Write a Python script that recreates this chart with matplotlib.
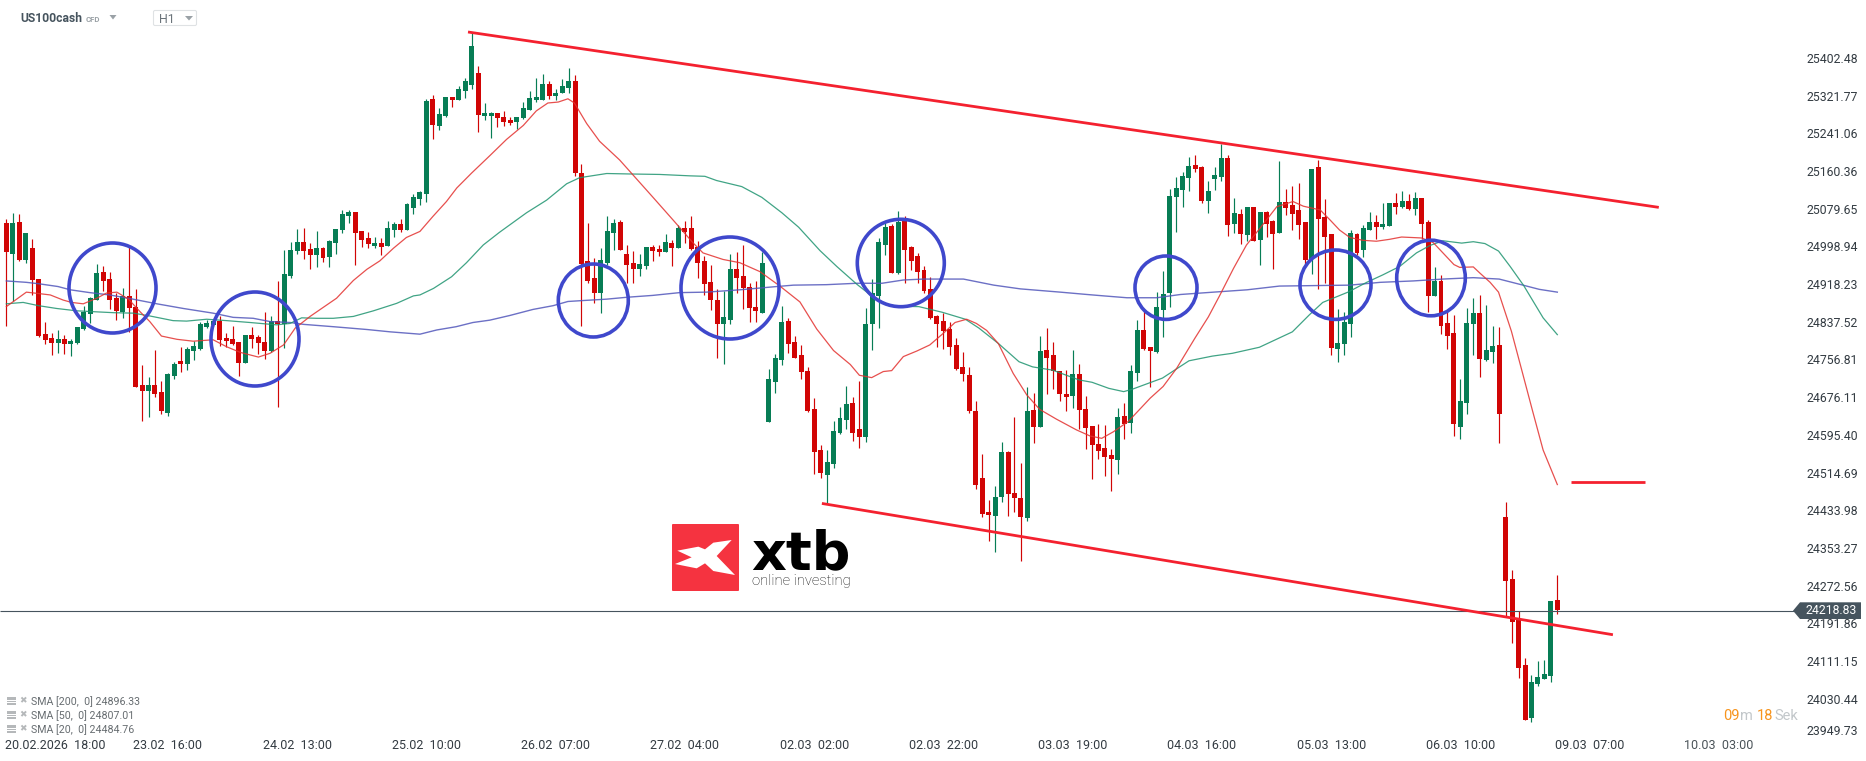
import matplotlib
matplotlib.use("Agg")
import numpy as np
import matplotlib.pyplot as plt
from matplotlib.patches import Ellipse, Polygon, Rectangle, FancyBboxPatch
from matplotlib.transforms import ScaledTranslation

# H1 candles, oldest first. R = close below open, G = close above open
directions = (
    "RGRGRRRRGR" "GGGGGRRRGR" "RRGRRGGRGG" "GGGRRRRGRR" "RGRGGGRRGR" "GGGGRRRGRG"
    "GRGGGGRGGR" "GGGRGGRRRG" "GGGGRGGGRR" "RRGGGRRRGG" "RRGRGRRRRR" "RGGRRRRGGG"
    "GRRRRRRGGG" "GRRGGGGRGR" "RRRRRRRRRR" "RRRGGRRRGR" "GRRRRGRRRR" "RRGRGGRRGG"
    "GGGGRRGGGR" "GRGRGRRGRR" "RRGRRRGGGR" "GGRGGRGRGR" "RGRRRGGGRG" "GRRRRRGGGGR"
)
highs = [
    25058, 25071, 25068, 25028, 25015, 24929, 24837, 24814, 24820, 24809,
    24801, 24826, 24871, 24890, 24961, 24957, 24944, 24899, 24910, 24997,
    24908, 24745, 24719, 24777, 24711, 24727, 24752, 24784, 24784, 24797,
    24838, 24842, 24844, 24849, 24814, 24829, 24795, 24809, 24826, 24809,
    24859, 24850, 24925, 24991, 25008, 25036, 25038, 25006, 25032, 24998,
    25013, 25036, 25077, 25077, 25073, 25032, 25030, 25019, 25017, 25053,
    25051, 25058, 25092, 25111, 25118, 25315, 25323, 25295, 25319, 25319,
    25342, 25360, 25457, 25385, 25307, 25286, 25284, 25289, 25275, 25275,
    25309, 25331, 25360, 25367, 25354, 25335, 25357, 25380, 25365, 25175,
    25050, 24974, 24995, 25064, 25057, 25055, 25002, 24990, 24983, 24998,
    25002, 25002, 25025, 25013, 25044, 25053, 25064, 25010, 24979, 24959,
    24907, 24903, 24983, 24987, 25002, 24920, 24925, 24987, 24736, 24768,
    24871, 24845, 24807, 24788, 24740, 24675, 24574, 24563, 24625, 24655,
    24699, 24676, 24711, 24868, 24929, 25017, 25048, 25046, 25075, 25064,
    25000, 24985, 24957, 24933, 24852, 24856, 24837, 24803, 24773, 24741,
    24668, 24555, 24456, 24486, 24580, 24561, 24634, 24535, 24698, 24685,
    24807, 24824, 24794, 24732, 24734, 24777, 24747, 24679, 24614, 24619,
    24617, 24565, 24653, 24664, 24745, 24841, 24863, 24784, 24901, 24946,
    25122, 25148, 25158, 25190, 25195, 25171, 25139, 25169, 25218, 25195,
    25103, 25079, 25083, 25083, 25073, 25075, 25056, 25182, 25122, 25128,
    25135, 25051, 25165, 25184, 25100, 25026, 24865, 24859, 25033, 25028,
    25045, 25073, 25067, 25092, 25092, 25113, 25118, 25112, 25115, 25102,
    25056, 24955, 24938, 24858, 24852, 24715, 24867, 24888, 24895, 24874,
    24829, 24826, 24452, 24306, 24218, 24117, 24081, 24112, 24113, 24239, 24295,
]
body_tops = [
    25049, 25049, 25051, 25028, 24996, 24929, 24811, 24803, 24801, 24801,
    24796, 24826, 24859, 24888, 24942, 24944, 24929, 24889, 24893, 24893,
    24869, 24702, 24702, 24702, 24687, 24726, 24747, 24754, 24779, 24786,
    24833, 24836, 24840, 24839, 24803, 24801, 24794, 24809, 24809, 24805,
    24794, 24839, 24839, 24940, 24991, 25008, 25008, 24993, 24996, 24996,
    25011, 25036, 25068, 25073, 25073, 25032, 25017, 25006, 25006, 25038,
    25047, 25047, 25090, 25105, 25115, 25310, 25315, 25282, 25319, 25319,
    25336, 25353, 25429, 25371, 25284, 25284, 25284, 25275, 25270, 25275,
    25296, 25316, 25319, 25346, 25346, 25328, 25342, 25353, 25353, 25157,
    24968, 24932, 24970, 25032, 25050, 25051, 24983, 24963, 24961, 24998,
    24998, 24994, 25008, 25006, 25039, 25039, 25039, 24997, 24968, 24922,
    24884, 24847, 24951, 24951, 24935, 24911, 24869, 24964, 24715, 24760,
    24837, 24839, 24794, 24766, 24732, 24651, 24563, 24537, 24604, 24632,
    24662, 24664, 24608, 24833, 24899, 25008, 25041, 25043, 25052, 25053,
    24998, 24978, 24948, 24908, 24850, 24839, 24822, 24788, 24741, 24724,
    24647, 24503, 24430, 24463, 24559, 24559, 24471, 24460, 24647, 24649,
    24775, 24777, 24766, 24732, 24683, 24726, 24726, 24651, 24614, 24576,
    24567, 24552, 24634, 24636, 24732, 24820, 24820, 24784, 24869, 24897,
    25107, 25124, 25150, 25171, 25173, 25169, 25118, 25152, 25188, 25188,
    25071, 25068, 25083, 25083, 25073, 25073, 25053, 25094, 25094, 25088,
    25077, 25051, 25165, 25169, 25062, 25026, 24792, 24837, 25028, 25025,
    25038, 25051, 25051, 25047, 25092, 25091, 25097, 25097, 25102, 25102,
    25051, 24925, 24925, 24835, 24814, 24668, 24835, 24856, 24856, 24777,
    24785, 24788, 24420, 24287, 24199, 24103, 24067, 24077, 24083, 24239, 24242,
]
body_bottoms = [
    24986, 24983, 24970, 24970, 24928, 24808, 24799, 24793, 24793, 24789,
    24789, 24793, 24822, 24855, 24885, 24925, 24885, 24861, 24859, 24868,
    24698, 24690, 24690, 24683, 24647, 24643, 24722, 24747, 24747, 24775,
    24779, 24827, 24831, 24799, 24796, 24790, 24749, 24749, 24801, 24792,
    24775, 24775, 24833, 24833, 24936, 24989, 24989, 24981, 24981, 24974,
    24976, 25006, 25034, 25064, 25028, 25013, 25004, 25000, 24998, 25000,
    25034, 25034, 25034, 25081, 25100, 25111, 25259, 25257, 25278, 25312,
    25312, 25332, 25345, 25281, 25279, 25279, 25273, 25265, 25263, 25266,
    25273, 25291, 25312, 25312, 25321, 25321, 25328, 25338, 25156, 24961,
    24924, 24899, 24899, 24963, 25027, 24991, 24959, 24951, 24951, 24956,
    24989, 24986, 24987, 24996, 24996, 25029, 24994, 24964, 24919, 24884,
    24833, 24833, 24841, 24932, 24910, 24866, 24860, 24857, 24623, 24708,
    24756, 24790, 24761, 24730, 24646, 24559, 24513, 24510, 24533, 24600,
    24627, 24600, 24591, 24591, 24833, 24893, 25002, 24943, 24942, 24991,
    24968, 24944, 24903, 24846, 24833, 24818, 24784, 24737, 24726, 24647,
    24488, 24426, 24424, 24422, 24463, 24469, 24460, 24420, 24418, 24612,
    24612, 24760, 24732, 24683, 24677, 24679, 24649, 24610, 24574, 24561,
    24548, 24544, 24542, 24619, 24621, 24728, 24779, 24775, 24773, 24863,
    24899, 25105, 25120, 25145, 25165, 25096, 25096, 25143, 25148, 25045,
    25047, 25025, 25023, 25011, 25013, 25047, 25026, 25028, 25081, 25068,
    25045, 24970, 24972, 25058, 25019, 24781, 24779, 24790, 24833, 24985,
    24992, 25035, 25041, 25041, 25042, 25083, 25083, 25079, 25079, 25047,
    24892, 24892, 24829, 24807, 24619, 24612, 24664, 24833, 24758, 24756,
    24773, 24640, 24283, 24194, 24096, 23985, 23989, 24062, 24072, 24079, 24221,
]
lows = [
    24829, 24881, 24968, 24964, 24894, 24804, 24790, 24767, 24771, 24769,
    24764, 24789, 24820, 24834, 24884, 24904, 24864, 24841, 24846, 24816,
    24697, 24626, 24634, 24677, 24640, 24636, 24716, 24730, 24734, 24756,
    24777, 24825, 24829, 24786, 24784, 24788, 24722, 24749, 24781, 24769,
    24758, 24773, 24655, 24782, 24931, 24983, 24972, 24951, 24955, 24966,
    24955, 24983, 25028, 25049, 24959, 24998, 24995, 24995, 24981, 25000,
    25019, 25030, 25033, 25068, 25088, 25094, 25229, 25248, 25276, 25297,
    25312, 25317, 25337, 25243, 25270, 25231, 25254, 25257, 25259, 25250,
    25271, 25291, 25309, 25312, 25315, 25312, 25328, 25327, 25150, 24829,
    24921, 24878, 24857, 24959, 24991, 24991, 24921, 24921, 24935, 24951,
    24968, 24979, 24987, 24957, 24996, 25006, 24991, 24932, 24895, 24862,
    24760, 24747, 24833, 24899, 24864, 24838, 24838, 24857, 24623, 24685,
    24745, 24770, 24761, 24714, 24644, 24512, 24504, 24448, 24525, 24597,
    24609, 24582, 24568, 24580, 24777, 24825, 24981, 24943, 24939, 24921,
    24948, 24921, 24899, 24844, 24784, 24779, 24766, 24734, 24711, 24642,
    24480, 24420, 24368, 24345, 24452, 24422, 24430, 24326, 24411, 24578,
    24612, 24683, 24694, 24668, 24647, 24653, 24608, 24565, 24501, 24544,
    24507, 24475, 24512, 24587, 24599, 24711, 24777, 24698, 24771, 24805,
    24869, 25030, 25083, 25118, 25158, 25092, 25070, 25120, 25139, 25021,
    25028, 25004, 25011, 25011, 24959, 25019, 24951, 25028, 25066, 25034,
    25015, 24959, 24940, 24908, 24921, 24766, 24752, 24766, 24805, 24981,
    24976, 25035, 25014, 25036, 25042, 25069, 25081, 25076, 25066, 25014,
    24859, 24892, 24811, 24779, 24593, 24587, 24640, 24766, 24720, 24753,
    24749, 24578, 24207, 24149, 24075, 23985, 23981, 24058, 24072, 24067, 24212,
]

# moving averages as (candle number, price)
sma20_idx = [
    0, 1.6, 3.1, 5, 6.8, 8.8, 10.1, 11.9, 14, 15.5, 17.1, 18.9, 20.7, 22.2, 24, 26.4, 28.9, 32, 34.1, 36.2,
    39, 40.8, 42.9, 44.7, 47, 51.1, 53.7, 55.8, 57.8, 59.9, 61.9, 64, 66, 68.1, 69.7, 72, 74.8, 77.4, 80, 82,
    83.8, 85.4, 86.9, 87.9, 89.8, 91.8, 94.9, 98, 100, 103.2, 106.3, 107.8, 110.9, 113.5, 116.6, 119.7, 122.8, 125.4, 128, 130.6,
    132, 133.9, 135.7, 137, 138.8, 140.9, 142.9, 145, 146.8, 148.6, 150.1, 151.7, 153.5, 155.8, 157.9, 159.9, 162.5, 165.6, 167.7, 169.5,
    171.3, 173.6, 177, 179, 181.1, 183.9, 186, 187.8, 189.9, 191.9, 194, 196.6, 199.1, 200.7, 203.3, 204.8, 206.3, 207.9, 209.9, 212,
    214, 215.9, 219, 220.8, 222.3, 224, 224.9, 227, 228, 229.6, 230.9, 232.9, 234.4, 236.2, 237.8, 240,
]
sma20_val = [
    24870, 24886, 24901, 24898, 24895, 24884, 24879, 24876, 24888, 24899, 24901, 24886, 24859, 24838, 24807, 24800, 24796, 24799, 24784, 24772,
    24762, 24770, 24788, 24824, 24849, 24888, 24926, 24950, 24968, 24995, 25018, 25031, 25063, 25095, 25124, 25156, 25193, 25228, 25258, 25289,
    25306, 25308, 25315, 25306, 25262, 25224, 25184, 25136, 25105, 25055, 25006, 24985, 24971, 24964, 24945, 24914, 24880, 24822, 24776, 24746,
    24723, 24718, 24731, 24733, 24763, 24775, 24788, 24813, 24836, 24843, 24834, 24819, 24791, 24727, 24681, 24650, 24629, 24606, 24593, 24588,
    24602, 24624, 24674, 24699, 24738, 24802, 24848, 24895, 24952, 25002, 25038, 25084, 25095, 25085, 25077, 25056, 25034, 25018, 25012, 25010,
    25014, 25019, 25017, 25007, 24985, 24960, 24954, 24955, 24942, 24922, 24901, 24817, 24739, 24645, 24563, 24489,
]
sma50_idx = [
    0, 2.6, 5, 7.8, 10.9, 13.7, 16.6, 19.7, 22.2, 25.8, 27.9, 31, 34.1, 37.7, 41.8, 43.9, 45.7, 48, 50.6, 53.7,
    56.8, 60.4, 63, 64, 66.1, 68.9, 71.2, 73.8, 76.3, 80.5, 83.6, 86.7, 88.7, 92.9, 96.5, 101.1, 105.8, 108.1, 109.9, 113.8,
    116.9, 120, 122.6, 125.9, 128.5, 131.6, 133.7, 136.7, 141.2, 144.8, 148.4, 150.5, 153.6, 156.7, 158.8, 161.9, 166, 168, 170.6, 172.9,
    174.2, 178.9, 181, 183, 186.6, 189.7, 193.9, 199, 201.6, 203.7, 207.6, 210.5, 213, 215.6, 218.2, 220.3, 222.3, 225.2, 227, 228.8,
    230.9, 232.7, 234.8, 237.8, 240,
]
sma50_val = [
    24876, 24879, 24872, 24866, 24861, 24859, 24857, 24856, 24850, 24840, 24839, 24843, 24840, 24836, 24831, 24834, 24846, 24845, 24845, 24849,
    24861, 24877, 24893, 24895, 24909, 24934, 24964, 25002, 25029, 25071, 25098, 25133, 25146, 25155, 25154, 25153, 25150, 25149, 25140, 25127,
    25104, 25071, 25040, 24990, 24956, 24918, 24895, 24871, 24870, 24858, 24843, 24824, 24790, 24752, 24741, 24734, 24713, 24708, 24695, 24688,
    24693, 24717, 24736, 24754, 24764, 24770, 24783, 24816, 24852, 24879, 24901, 24922, 24938, 24956, 24985, 25001, 25011, 25006, 25009, 25005,
    24989, 24956, 24915, 24846, 24810,
]
sma200_idx = [
    0, 3.1, 5, 8, 9.9, 12.9, 16, 19.6, 23.3, 27.4, 32, 35.1, 38.2, 40.8, 43.9, 46, 50.6, 55.8, 59.4, 64,
    66.6, 69.6, 72.2, 74.8, 77.9, 81.5, 84.6, 86.9, 89.2, 92.9, 96, 100, 104.2, 108.3, 113.5, 119.2, 121.8, 126.9, 131.6, 135.5,
    138.8, 141.9, 148.1, 152.8, 156.9, 163.1, 167.2, 169.8, 173.4, 178, 181.7, 186.8, 192, 197, 202.3, 207.9, 212.6, 217.7, 222.3, 227,
    231, 234.4, 237.2, 240,
]
sma200_val = [
    24925, 24922, 24919, 24913, 24906, 24900, 24895, 24886, 24876, 24866, 24856, 24847, 24845, 24838, 24836, 24832, 24827, 24821, 24816, 24811,
    24820, 24827, 24836, 24841, 24851, 24864, 24872, 24881, 24883, 24886, 24890, 24894, 24900, 24901, 24906, 24913, 24916, 24917, 24920, 24920,
    24927, 24929, 24929, 24916, 24908, 24901, 24896, 24893, 24889, 24889, 24896, 24901, 24906, 24914, 24915, 24916, 24922, 24925, 24929, 24932,
    24929, 24917, 24907, 24901,
]

# channel lines drawn on the chart: (candle numbers, prices)
upper_line = ([71.44, 255.7], [25458, 25082.5])
lower_line = ([126.2, 248.6], [24448.6, 24167.5])
target_line = ([242.1, 253.6], [24493.5, 24493.5])

last_price = 24218.83
y_ticks = [
    25402.48, 25321.77, 25241.06, 25160.36, 25079.65, 24998.94, 24918.23, 24837.52, 24756.81, 24676.11,
    24595.40, 24514.69, 24433.98, 24353.27, 24272.56, 24191.86, 24111.15, 24030.44, 23949.73,
]
x_ticks = [7.6, 25, 45, 65, 85, 105, 125, 145, 165, 185, 205, 225, 245, 265]
x_labels = [
    "20.02.2026  18:00", "23.02  16:00", "24.02  13:00", "25.02  10:00", "26.02  07:00", "27.02  04:00", "02.03  02:00",
    "02.03  22:00", "03.03  19:00", "04.03  16:00", "05.03  13:00", "06.03  10:00", "09.03  07:00", "10.03  03:00",
]
legend_rows = ["SMA [200,  0] 24896.33", "SMA [50,  0] 24807.01", "SMA [20,  0] 24484.76"]

# hand drawn circles, in pixels of the picture: centre x, centre y, radius x, radius y
circles = [
    (112.5, 288, 43.5, 45), (255, 339, 44, 47), (593.3, 300.5, 35, 36.5), (730, 288, 49, 51),
    (900.8, 263, 43.5, 43.7), (1166, 287.7, 31, 31.7), (1335.5, 284.7, 35.5, 34.7), (1431, 278, 34.3, 37.8),
]

GREEN = "#077d55"
RED = "#d10505"
INK = "#46545e"

plt.rcParams["font.family"] = ["Roboto", "DejaVu Sans"]

W, H = 1866, 761
fig = plt.figure(figsize=(W / 100, H / 100), dpi=100, facecolor="white")
# main axes end where the price scale starts
ax = fig.add_axes([0, (H - 736.5) / H, 1800 / W, 736.5 / H])
ax.set_xlim(-0.98, 277.55)
ax.set_ylim(23949.6, 25526.5)
for s in ax.spines.values():
    s.set_visible(False)

ups = np.array([d == "G" for d in directions])
idx = np.arange(len(highs))
colors = np.where(ups, GREEN, RED)
ax.vlines(idx, lows, highs, colors=colors, linewidth=0.85, zorder=2)
ax.bar(idx, np.array(body_tops) - np.array(body_bottoms), bottom=body_bottoms, width=0.77,
       color=colors, linewidth=0, zorder=3)

ax.plot(sma200_idx, sma200_val, color="#5257bb", lw=1.0, alpha=0.85, zorder=4)
ax.plot(sma50_idx, sma50_val, color="#1f9470", lw=0.9, alpha=0.85, zorder=4)
ax.plot(sma20_idx, sma20_val, color="#e3312f", lw=0.9, alpha=0.85, zorder=4)

ax.plot([-0.98, 276.7], [last_price, last_price], color=INK, lw=0.8, zorder=4, solid_capstyle="butt")

for xs, ys in (upper_line, lower_line, target_line):
    ax.plot(xs, ys, color="#f4212f", lw=2.0, zorder=6, solid_capstyle="butt")

ax.yaxis.tick_right()
ax.set_yticks(y_ticks)
ax.set_yticklabels([f"{t:.2f}" for t in y_ticks], fontsize=8.8, color="#333b42")
ax.tick_params(axis="y", length=0, pad=4.5)
ax.set_xticks(x_ticks)
ax.set_xticklabels(x_labels, fontsize=9, color="#333b42")
ax.get_xticklabels()[-1].set_color("#4a5358")
ax.tick_params(axis="x", length=0, pad=1.5)
# the lowest price label sits higher than its level
bottom_label = ax.yaxis.get_major_ticks()[-1].label2
bottom_label.set_transform(bottom_label.get_transform() + ScaledTranslation(0, 4.5 / 72, fig.dpi_scale_trans))

# overlay in picture pixels for everything that is not price data
ov = fig.add_axes([0, 0, 1, 1], zorder=5)
ov.set_xlim(0, W)
ov.set_ylim(H, 0)
ov.axis("off")

for cx, cy, rx, ry in circles:
    ov.add_patch(Ellipse((cx, cy), 2 * rx, 2 * ry, fill=False, edgecolor="#3f48cc", lw=2.6))

# last price tag
ov.add_patch(Polygon([(1793, 610.7), (1800, 602.3), (1861, 602.3), (1861, 619), (1800, 619)],
                     closed=True, facecolor=INK, edgecolor="none"))
ov.text(1805, 611, f"{last_price:.2f}", color="white", fontsize=8.8, va="center", ha="left")

# logo
ov.add_patch(FancyBboxPatch((672, 524), 67, 67, boxstyle="round,pad=0,rounding_size=1",
                            facecolor="#f53340", edgecolor="none"))
x_mark = [(82, 152), (145, 140), (165, 148), (190, 128), (245, 120), (200, 168), (255, 225),
          (190, 213), (165, 190), (140, 205), (75, 192), (125, 172)]
ov.add_patch(Polygon([(650 + a / 3, 500 + b / 3) for a, b in x_mark], closed=True, facecolor="white", edgecolor="none"))
ov.text(751, 569.5, "xtb", fontsize=39, fontweight="bold", family="DejaVu Sans", color="black", va="baseline", ha="left")
ov.text(751.5, 581.5, "online investing", fontsize=10.6, color="#111111", va="center", ha="left", fontweight="light")

# header
ov.text(20, 18.8, "US100cash", fontsize=8.7, fontweight="bold", color=INK, va="center", ha="left")
ov.text(86, 19.3, "CFD", fontsize=5.6, color="#9aa1a6", va="center", ha="left", fontweight="bold")
ov.add_patch(Polygon([(109.5, 15), (116.5, 15), (113, 19.5)], closed=True, facecolor="#9aa1a6", edgecolor="none"))
ov.add_patch(FancyBboxPatch((153.5, 10.5), 43, 15, boxstyle="round,pad=0,rounding_size=1.5",
                            facecolor="white", edgecolor="#dfe2e4", lw=0.8))
ov.text(158.5, 19.5, "H1", fontsize=9, color="#6b747a", va="center", ha="left")
ov.add_patch(Polygon([(185, 16), (193, 16), (189, 20.5)], closed=True, facecolor="#9aa1a6", edgecolor="none"))

# indicator legend
for row_y, row in zip((701.5, 715.5, 729.5), legend_rows):
    ov.add_patch(Rectangle((6.5, row_y - 5), 9.5, 3.5, facecolor="#b5b8ba", edgecolor="none"))
    ov.add_patch(Rectangle((6.5, row_y - 0.5), 9.5, 1.2, facecolor="#b5b8ba", edgecolor="none"))
    ov.add_patch(Rectangle((6.5, row_y + 1.8), 9.5, 1.2, facecolor="#b5b8ba", edgecolor="none"))
    ov.text(23, row_y - 1, "\u2716", fontsize=6.5, color="#b5b8ba", va="center", ha="center", family="DejaVu Sans")
    ov.text(31, row_y, row, fontsize=7.7, color="#666c70", va="center", ha="left")

# candle countdown
for tx, part, col in ((1723, "09", "#f7941d"), (1740, "m", "#c2c7ca"), (1757, "18", "#f7941d"), (1774, "Sek", "#c2c7ca")):
    ov.text(tx, 716, part, fontsize=10.5, color=col, va="center", ha="left")

fig.savefig("out.png", dpi=100)
plt.close(fig)
